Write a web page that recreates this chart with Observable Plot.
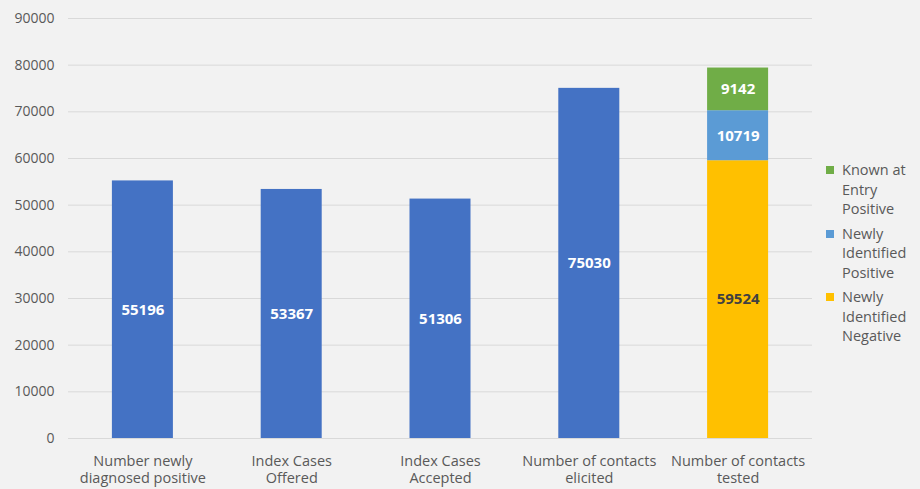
<!DOCTYPE html>
<html>
<head>
<meta charset="utf-8">
<script src="https://cdn.jsdelivr.net/npm/d3@7"></script>
<script src="https://cdn.jsdelivr.net/npm/@observablehq/plot@0.6"></script>
<style>
  body { margin: 0; background: #f2f2f2; font-family: "Open Sans", sans-serif; }
  #wrap { position: relative; width: 920px; height: 489px; }
  #legend { position: absolute; left: 826px; top: 160px; font-size: 14.5px; color: #595959; line-height: 19.5px; }
  .item { display: flex; align-items: flex-start; margin-bottom: 5px; }
  .sw { width: 8px; height: 8px; margin-top: 6px; margin-right: 8px; flex: none; }
</style>
</head>
<body>
<div id="wrap"><div id="legend"></div></div>
<script>
const categories = [
  "Number newly\ndiagnosed positive",
  "Index Cases\nOffered",
  "Index Cases\nAccepted",
  "Number of contacts\nelicited",
  "Number of contacts\ntested"
];
const totals = [55196, 53367, 51306, 75030, null];
const testedSeries = ["Newly Identified Negative", "Newly Identified Positive", "Known at Entry Positive"];
const testedValues = [59524, 10719, 9142];
const seriesNames = ["Total", "Newly Identified Negative", "Newly Identified Positive", "Known at Entry Positive"];
const seriesColors = ["#4472C4", "#FFC000", "#5B9BD5", "#70AD47"];
const legendOrder = [
  {name: "Known at\nEntry\nPositive", color: "#70AD47"},
  {name: "Newly\nIdentified\nPositive", color: "#5B9BD5"},
  {name: "Newly\nIdentified\nNegative", color: "#FFC000"}
];
const yTicks = [0, 10000, 20000, 30000, 40000, 50000, 60000, 70000, 80000, 90000];

const rows = [];
categories.forEach((c, i) => {
  if (totals[i] != null) rows.push({cat: c, series: "Total", value: totals[i]});
});
testedSeries.forEach((s, j) => rows.push({cat: categories[4], series: s, value: testedValues[j]}));

const chart = Plot.plot({
  width: 920,
  height: 489,
  marginLeft: 68,
  marginRight: 108,
  marginTop: 18,
  marginBottom: 51,
  style: {background: "#f2f2f2", fontFamily: "Open Sans, sans-serif", fontSize: "14px", color: "#595959"},
  x: {domain: categories, paddingInner: 0.59, paddingOuter: 0.295, round: false, label: null},
  y: {domain: [0, 90000], label: null},
  color: {domain: seriesNames, range: seriesColors},
  marks: [
    Plot.gridY(yTicks, {stroke: "#d9d9d9", strokeOpacity: 1, strokeWidth: 1}),
    Plot.axisY(yTicks, {tickSize: 0, tickPadding: 14, fontSize: 14, fill: "#595959", tickFormat: d => String(d), label: null}),
    Plot.axisX({tickSize: 0, tickPadding: 15, fontSize: 14.5, fill: "#595959", lineHeight: 1.2, label: null}),
    Plot.barY(rows, Plot.stackY({x: "cat", y: "value", fill: "series", order: null})),
    Plot.text(rows, Plot.stackY({x: "cat", y: "value", order: null, text: d => String(d.value),
      fill: d => d.series === "Newly Identified Negative" ? "#404040" : "#ffffff",
      fontWeight: "bold", fontSize: 15}))
  ]
});
document.getElementById("wrap").prepend(chart);

const legend = document.getElementById("legend");
legendOrder.forEach(l => {
  const item = document.createElement("div");
  item.className = "item";
  const sw = document.createElement("div");
  sw.className = "sw";
  sw.style.background = l.color;
  const t = document.createElement("div");
  t.innerHTML = l.name.split("\n").join("<br>");
  item.append(sw, t);
  legend.append(item);
});
</script>
</body>
</html>
